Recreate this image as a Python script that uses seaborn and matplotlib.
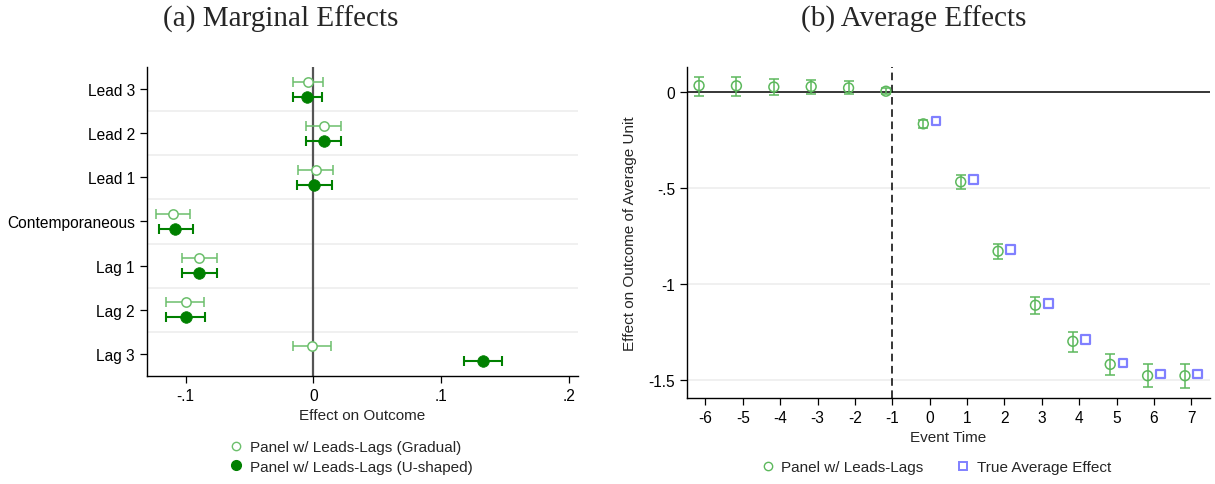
import numpy as np
import pandas as pd
import matplotlib
matplotlib.use("Agg")
import matplotlib.pyplot as plt
from matplotlib.lines import Line2D
import seaborn as sns

sns.set_style("white")
plt.rcParams['font.family'] = ['Liberation Sans', 'DejaVu Sans']
plt.rcParams['axes.unicode_minus'] = False

# ---- panel (a): marginal effects ----
terms = ['Lead 3', 'Lead 2', 'Lead 1', 'Contemporaneous', 'Lag 1', 'Lag 2', 'Lag 3']
grad_est = [-0.0044, 0.0081, 0.0021, -0.1100, -0.0893, -0.0999, -0.0013]
grad_lo = [-0.0161, -0.0055, -0.0117, -0.1230, -0.1030, -0.1150, -0.0157]
grad_hi = [0.0076, 0.0219, 0.0157, -0.0966, -0.0752, -0.0853, 0.0141]
ushp_est = [-0.0047, 0.0081, 0.0005, -0.1080, -0.0895, -0.0997, 0.1323]
ushp_lo = [-0.0160, -0.0055, -0.0130, -0.1210, -0.1030, -0.1150, 0.1175]
ushp_hi = [0.0070, 0.0219, 0.0146, -0.0945, -0.0752, -0.0846, 0.1472]

# ---- panel (b): average effects ----
event_time = [-6, -5, -4, -3, -2, -1, 0, 1, 2, 3, 4, 5, 6, 7]
avg_est = [0.031, 0.030, 0.024, 0.026, 0.019, 0.002, -0.168, -0.470, -0.831,
           -1.112, -1.300, -1.420, -1.479, -1.479]
avg_lo = [-0.022, -0.022, -0.017, -0.010, -0.010, -0.014, -0.189, -0.508, -0.873,
          -1.159, -1.356, -1.477, -1.540, -1.545]
avg_hi = [0.078, 0.075, 0.066, 0.061, 0.054, 0.019, -0.149, -0.435, -0.792,
          -1.068, -1.250, -1.365, -1.420, -1.417]
true_time = [0, 1, 2, 3, 4, 5, 6, 7]
true_eff = [-0.153, -0.456, -0.824, -1.102, -1.292, -1.413, -1.470, -1.470]

c_grad = '#6cbf6c'
c_ushp = '#008000'
c_avg = '#5cb85c'
c_true = '#8080ff'

fig = plt.figure(figsize=(12.15, 4.85), dpi=100)
ax1 = fig.add_axes([0.1207, 0.2227, 0.355, 0.6371])
ax2 = fig.add_axes([0.5652, 0.1773, 0.4307, 0.6825])

# panel (a)
pos = np.arange(len(terms))
df_g = pd.DataFrame({'est': grad_est, 'lo': grad_lo, 'hi': grad_hi, 'y': pos - 0.17})
df_u = pd.DataFrame({'est': ushp_est, 'lo': ushp_lo, 'hi': ushp_hi, 'y': pos + 0.17})

for b in np.arange(0.5, len(terms) - 1, 1.0):
    ax1.axhline(b, color='#eeeeee', lw=1.2, zorder=0)
ax1.axvline(0, color='#555555', lw=1.6, zorder=1)

ax1.errorbar(df_g['est'], df_g['y'], xerr=[df_g['est'] - df_g['lo'], df_g['hi'] - df_g['est']],
             fmt='none', ecolor=c_grad, elinewidth=1.1, capsize=3.5, capthick=1.1, zorder=2)
ax1.errorbar(df_u['est'], df_u['y'], xerr=[df_u['est'] - df_u['lo'], df_u['hi'] - df_u['est']],
             fmt='none', ecolor=c_ushp, elinewidth=1.5, capsize=3.5, capthick=1.5, zorder=2)
sns.scatterplot(data=df_g, x='est', y='y', ax=ax1, marker='o', s=45,
                facecolor='white', edgecolor=c_grad, linewidth=1.1, zorder=3)
sns.scatterplot(data=df_u, x='est', y='y', ax=ax1, marker='o', s=70,
                color=c_ushp, edgecolor=c_ushp, linewidth=0.5, zorder=3)

ax1.set_ylim(len(terms) - 0.5, -0.5)
ax1.set_yticks(pos)
ax1.set_yticklabels(terms)
ax1.set_xlim(-0.1305, 0.207)
ax1.set_xticks([-0.1, 0, 0.1, 0.2])
ax1.set_xticklabels(['-.1', '0', '.1', '.2'])
ax1.set_xlabel('Effect on Outcome', fontsize=11, labelpad=4)
ax1.set_ylabel('')
sns.despine(ax=ax1)
for s in ['left', 'bottom']:
    ax1.spines[s].set_color('black')
    ax1.spines[s].set_linewidth(1.0)
ax1.tick_params(axis='both', which='major', direction='out', length=5, width=0.9,
                labelsize=11.2, colors='black', left=True, bottom=True)

h1 = [Line2D([], [], marker='o', ls='', markerfacecolor='white', markeredgecolor=c_grad, markersize=6),
      Line2D([], [], marker='o', ls='', color=c_ushp, markersize=7)]
fig.legend(h1, ['Panel w/ Leads-Lags (Gradual)', 'Panel w/ Leads-Lags (U-shaped)'],
           loc='center', bbox_to_anchor=(350 / 1215, 1 - 458 / 485), frameon=False,
           fontsize=11, handletextpad=0.3, labelspacing=0.35, handlelength=1.2)

# panel (b)
df_a = pd.DataFrame({'t': np.array(event_time) - 0.17, 'est': avg_est, 'lo': avg_lo, 'hi': avg_hi})
df_t = pd.DataFrame({'t': np.array(true_time) + 0.17, 'eff': true_eff})

for g in [-0.5, -1.0, -1.5]:
    ax2.axhline(g, color='#eeeeee', lw=1.2, zorder=0)
ax2.axhline(0, color='black', lw=1.1, zorder=1)
ax2.axvline(-1, color='black', lw=1.1, ls=(0, (5, 3)), zorder=1)

ax2.errorbar(df_a['t'], df_a['est'], yerr=[df_a['est'] - df_a['lo'], df_a['hi'] - df_a['est']],
             fmt='none', ecolor=c_avg, elinewidth=1.1, capsize=3.5, capthick=1.1, zorder=2)
sns.scatterplot(data=df_a, x='t', y='est', ax=ax2, marker='o', s=50,
                facecolor='none', edgecolor=c_avg, linewidth=1.1, zorder=3)
sns.scatterplot(data=df_t, x='t', y='eff', ax=ax2, marker='s', s=40,
                facecolor='none', edgecolor=c_true, linewidth=1.6, zorder=3)

ax2.set_xlim(-6.5, 7.5)
ax2.set_ylim(-1.595, 0.128)
ax2.set_xticks(event_time)
ax2.set_yticks([0, -0.5, -1, -1.5])
ax2.set_yticklabels(['0', '-.5', '-1', '-1.5'])
ax2.set_xlabel('Event Time', fontsize=11, labelpad=4)
ax2.set_ylabel('Effect on Outcome of Average Unit', fontsize=11, labelpad=8)
sns.despine(ax=ax2)
for s in ['left', 'bottom']:
    ax2.spines[s].set_color('black')
    ax2.spines[s].set_linewidth(1.0)
ax2.tick_params(axis='both', which='major', direction='out', length=5, width=0.9,
                labelsize=11.2, colors='black', left=True, bottom=True)

h2 = [Line2D([], [], marker='o', ls='', markerfacecolor='none', markeredgecolor=c_avg, markersize=6),
      Line2D([], [], marker='s', ls='', markerfacecolor='none', markeredgecolor=c_true,
             markeredgewidth=1.4, markersize=6)]
fig.legend(h2, ['Panel w/ Leads-Lags', 'True Average Effect'], ncol=2,
           loc='center', bbox_to_anchor=(935 / 1215, 1 - 468 / 485), frameon=False,
           fontsize=11, handletextpad=0.3, columnspacing=2.0, handlelength=1.2)

fig.text(281 / 1215, 1 - 19 / 485, '(a) Marginal Effects', ha='center', va='center',
         fontsize=21, family=['Liberation Serif', 'DejaVu Serif'])
fig.text(914 / 1215, 1 - 19 / 485, '(b) Average Effects', ha='center', va='center',
         fontsize=21, family=['Liberation Serif', 'DejaVu Serif'])

fig.savefig('out.png', dpi=100)
